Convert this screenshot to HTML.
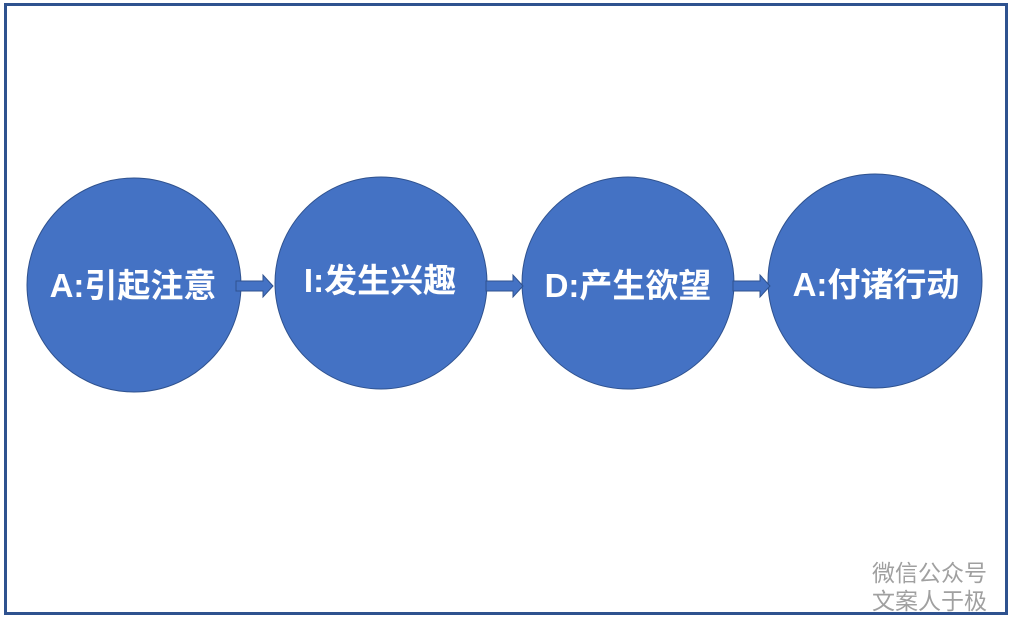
<!DOCTYPE html>
<html><head><meta charset="utf-8"><style>
body{margin:0;width:1011px;height:619px;background:#fff;overflow:hidden;font-family:"Liberation Sans","Noto Sans CJK SC",sans-serif}
</style></head><body>
<svg width="1011" height="619" xmlns="http://www.w3.org/2000/svg">
<rect x="5.5" y="4.5" width="1001" height="609" fill="none" stroke="#2f528f" stroke-width="3"/>
<g fill="#4472c4" stroke="#2f528f" stroke-width="1">
<circle cx="134" cy="285" r="107"/>
<circle cx="381" cy="283" r="106"/>
<circle cx="628" cy="283" r="106"/>
<circle cx="875" cy="281" r="107"/>
<polygon points="236,281 263,281 263,275 273,286 263,297 263,291 236,291"/>
<polygon points="486,281 513,281 513,275 523,286 513,297 513,291 486,291"/>
<polygon points="733,281 760,281 760,275 770,286 760,297 760,291 733,291"/>
</g>
<g fill="#fff" font-size="33" font-weight="bold" text-anchor="middle" font-family="Liberation Sans, Noto Sans CJK SC, sans-serif">
<text x="133" y="297">A:引起注意</text>
<text x="380" y="292">I:发生兴趣</text>
<text x="628" y="297">D:产生欲望</text>
<text x="876" y="296">A:付诸行动</text>
</g>
<g fill="#a0a0a0" font-size="23" font-family="Noto Sans CJK SC, sans-serif">
<text x="872" y="581">微信公众号</text>
<text x="872" y="609">文案人于极</text>
</g>
</svg>
</body></html>
